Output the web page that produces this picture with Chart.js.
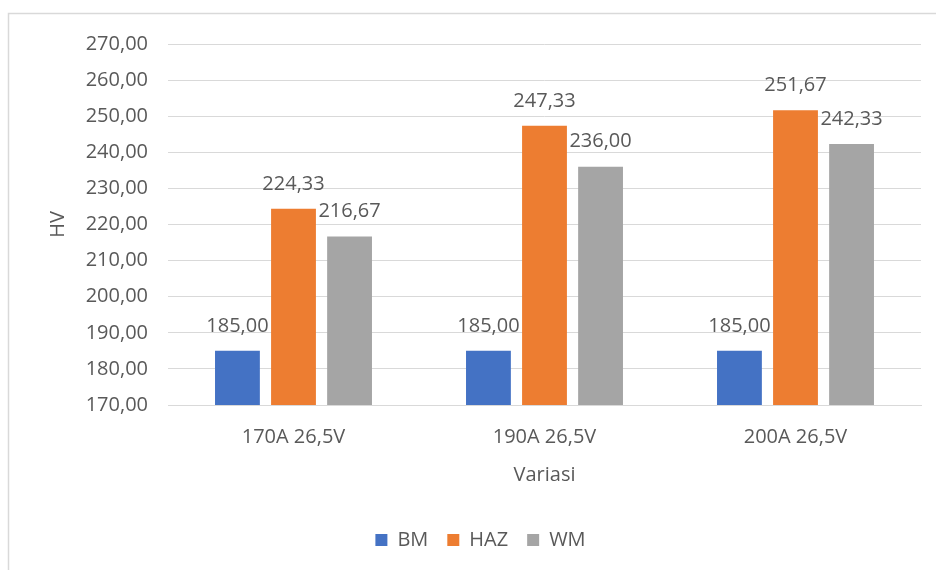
<!DOCTYPE html>
<html>
<head>
<meta charset="utf-8">
<script src="https://cdn.jsdelivr.net/npm/chart.js@4/dist/chart.umd.min.js"></script>
<style>
  html, body { margin: 0; padding: 0; background: #ffffff; }
  #wrap { width: 936px; height: 570px; position: relative; }
</style>
</head>
<body>
<div id="wrap"><canvas id="chart" width="936" height="570"></canvas></div>
<script>
// Hardness (HV) per welding variation
const categories = ['170A 26,5V', '190A 26,5V', '200A 26,5V'];
const bmValues  = [185.00, 185.00, 185.00];
const hazValues = [224.33, 247.33, 251.67];
const wmValues  = [216.67, 236.00, 242.33];
const seriesNames = ['BM', 'HAZ', 'WM'];
const seriesColors = ['#4472C4', '#ED7D31', '#A5A5A5'];
const yMin = 170, yMax = 270, yStep = 10;

const FONT = "'Open Sans', 'Noto Sans', sans-serif";
const TEXT = '#595959';
const fmt = v => Number(v).toFixed(2).replace('.', ',');

// White background plus the thin frame around the chart object
const framePlugin = {
  id: 'frame',
  beforeDraw(chart) {
    const ctx = chart.ctx;
    ctx.save();
    ctx.fillStyle = '#ffffff';
    ctx.fillRect(0, 0, chart.width, chart.height);
    ctx.strokeStyle = '#d9d9d9';
    ctx.lineWidth = 1.5;
    ctx.beginPath();
    ctx.moveTo(8.5, chart.height + 2);
    ctx.lineTo(8.5, 13.5);
    ctx.lineTo(chart.width + 2, 13.5);
    ctx.stroke();
    ctx.restore();
  }
};

// Value labels above each bar
const valueLabels = {
  id: 'valueLabels',
  afterDatasetsDraw(chart) {
    const ctx = chart.ctx;
    ctx.save();
    ctx.font = '20px ' + FONT;
    ctx.fillStyle = TEXT;
    ctx.textAlign = 'center';
    ctx.textBaseline = 'middle';
    chart.data.datasets.forEach((ds, di) => {
      const meta = chart.getDatasetMeta(di);
      meta.data.forEach((bar, i) => {
        ctx.fillText(fmt(ds.data[i]), bar.x, bar.y - 25);
      });
    });
    ctx.restore();
  }
};

new Chart(document.getElementById('chart'), {
  type: 'bar',
  data: {
    labels: categories,
    datasets: [
      { label: seriesNames[0], data: bmValues,  backgroundColor: seriesColors[0] },
      { label: seriesNames[1], data: hazValues, backgroundColor: seriesColors[1] },
      { label: seriesNames[2], data: wmValues,  backgroundColor: seriesColors[2] }
    ]
  },
  options: {
    responsive: false,
    animation: false,
    devicePixelRatio: 1,
    layout: { padding: { top: 44, right: 15, bottom: 10, left: 40 } },
    datasets: {
      bar: { categoryPercentage: 0.67, barPercentage: 0.8 }
    },
    plugins: {
      legend: {
        position: 'bottom',
        labels: {
          boxWidth: 12,
          boxHeight: 12,
          padding: 19,
          color: TEXT,
          font: { family: FONT, size: 20 }
        }
      },
      tooltip: { enabled: false }
    },
    scales: {
      x: {
        grid: { display: false, drawTicks: false },
        border: { display: true, color: '#d9d9d9', width: 1 },
        ticks: { color: TEXT, font: { family: FONT, size: 20 }, padding: 20 },
        title: {
          display: true,
          text: 'Variasi',
          color: TEXT,
          font: { family: FONT, size: 20 },
          padding: { top: 0, bottom: 24 }
        },
        afterFit(scale) { scale.height = 106; }
      },
      y: {
        min: yMin,
        max: yMax,
        grid: { color: '#d9d9d9', lineWidth: 1, drawTicks: false },
        border: { display: false },
        ticks: {
          stepSize: yStep,
          color: TEXT,
          font: { family: FONT, size: 20 },
          padding: 20,
          callback: v => fmt(v)
        },
        title: {
          display: true,
          text: 'HV',
          color: TEXT,
          font: { family: FONT, size: 20 },
          padding: { top: 6, bottom: 0 }
        },
        afterFit(scale) { scale.width = 128; }
      }
    }
  },
  plugins: [framePlugin, valueLabels]
});
</script>
</body>
</html>
